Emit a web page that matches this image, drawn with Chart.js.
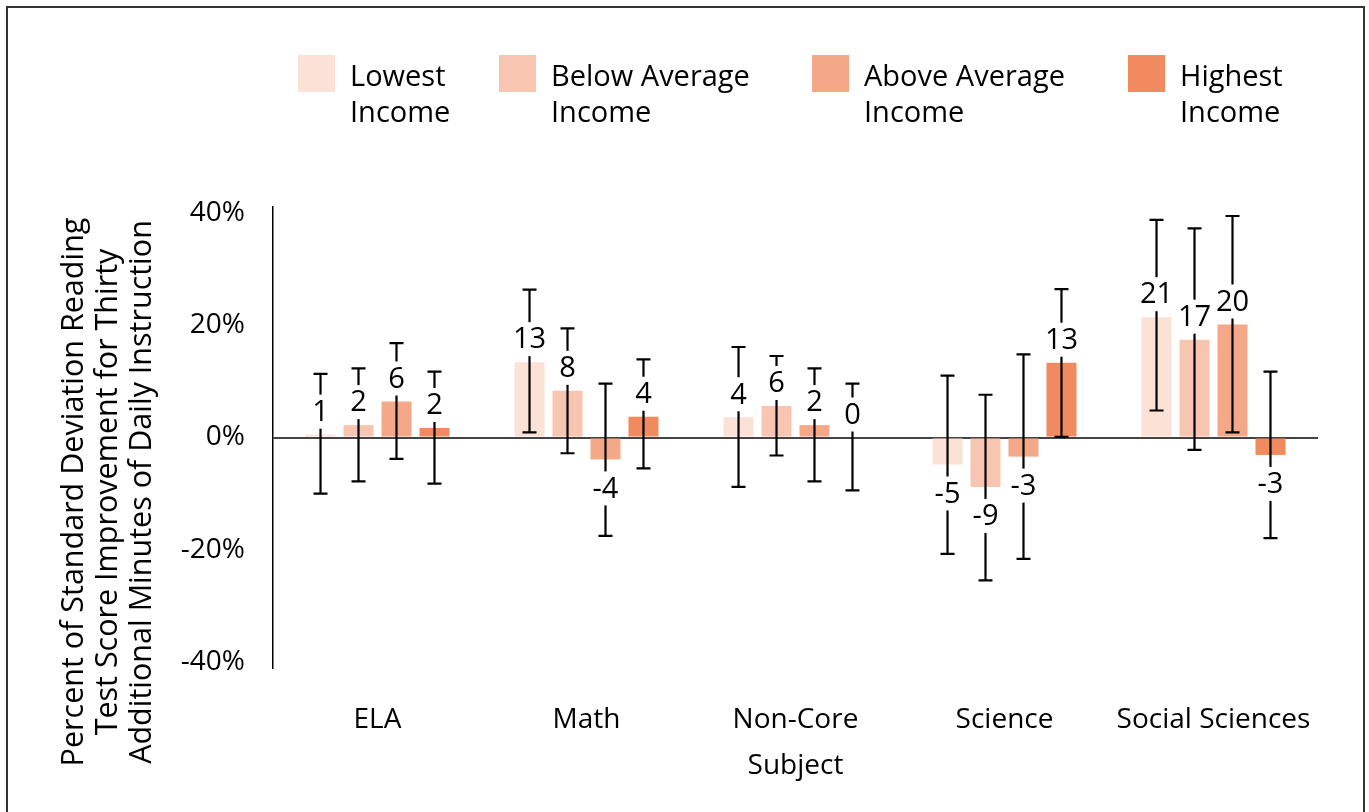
<!DOCTYPE html>
<html>
<head>
<meta charset="utf-8">
<script src="https://cdn.jsdelivr.net/npm/chart.js@4.4.1/dist/chart.umd.min.js"></script>
<style>
  html, body { margin: 0; padding: 0; background: #fff; overflow: hidden; }
  #wrap { position: relative; width: 1369px; height: 812px; }
  #frame { position: absolute; left: 6px; top: 6px; width: 1355px; height: 840px; border: 2px solid #333; pointer-events: none; }
</style>
</head>
<body>
<div id="wrap">
  <canvas id="chart" width="1369" height="812"></canvas>
  <div id="frame"></div>
</div>
<script>
// Categories and series
const subjects = ['ELA', 'Math', 'Non-Core', 'Science', 'Social Sciences'];
const incomeLabels = [['Lowest', 'Income'], ['Below Average', 'Income'], ['Above Average', 'Income'], ['Highest', 'Income']];
const incomeColors = ['#fce1d7', '#f8c5b0', '#f5a887', '#f28a60'];

const lowestIncome       = [0.5, 13.4, 3.6, -4.8, 21.4];
const belowAverageIncome = [2.2, 8.3, 5.6, -8.8, 17.4];
const aboveAverageIncome = [6.4, -3.9, 2.2, -3.4, 20.1];
const highestIncome      = [1.7, 3.7, 0, 13.3, -3.1];

// Confidence intervals [low, high]
const lowestCI       = [[-10.0, 11.3], [0.9, 26.3], [-8.8, 16.1], [-20.7, 11.0], [4.8, 38.7]];
const belowAverageCI = [[-7.8, 12.3], [-2.8, 19.4], [-3.2, 14.5], [-25.4, 7.6], [-2.2, 37.2]];
const aboveAverageCI = [[-3.8, 16.8], [-17.5, 9.6], [-7.8, 12.3], [-21.6, 14.8], [0.9, 39.4]];
const highestCI      = [[-8.2, 11.7], [-5.5, 13.9], [-9.4, 9.6], [0.1, 26.4], [-17.9, 11.7]];

const yTicks = [-40, -20, 0, 20, 40];
const yTitleLines = ['Percent of Standard Deviation Reading', 'Test Score Improvement for Thirty', 'Additional Minutes of Daily Instruction'];
const xTitle = 'Subject';

const seriesValues = [lowestIncome, belowAverageIncome, aboveAverageIncome, highestIncome];
const seriesCI = [lowestCI, belowAverageCI, aboveAverageCI, highestCI];

Chart.defaults.font.family = '"Open Sans", sans-serif';
Chart.defaults.font.size = 28;
Chart.defaults.color = '#000';

// error bars + value labels
const errorBarPlugin = {
    id: 'errorBars',
    afterDatasetsDraw(chart) {
        const ctx = chart.ctx;
        const y = chart.scales.y;
        ctx.save();
        ctx.strokeStyle = '#000';
        ctx.lineWidth = 2.2;
        chart.data.datasets.forEach((ds, i) => {
            const meta = chart.getDatasetMeta(i);
            meta.data.forEach((bar, j) => {
                const ci = seriesCI[i][j];
                const yLo = y.getPixelForValue(ci[0]);
                const yHi = y.getPixelForValue(ci[1]);
                ctx.beginPath();
                ctx.moveTo(bar.x, yLo); ctx.lineTo(bar.x, yHi);
                ctx.moveTo(bar.x - 7, yLo); ctx.lineTo(bar.x + 7, yLo);
                ctx.moveTo(bar.x - 7, yHi); ctx.lineTo(bar.x + 7, yHi);
                ctx.stroke();
            });
        });
        ctx.font = '29px "Open Sans", sans-serif';
        ctx.textAlign = 'center';
        ctx.textBaseline = 'middle';
        chart.data.datasets.forEach((ds, i) => {
            const meta = chart.getDatasetMeta(i);
            meta.data.forEach((bar, j) => {
                const v = ds.data[j];
                const txt = String(Math.round(v));
                const ty = v >= 0 ? bar.y - 23 : bar.y + 29;
                const w = ctx.measureText(txt).width + 4;
                ctx.fillStyle = '#fff';
                ctx.fillRect(bar.x - w / 2, ty - 17, w, 34);
                ctx.fillStyle = '#000';
                ctx.fillText(txt, bar.x, ty + 1);
            });
        });
        ctx.restore();
    }
};

// legend (two-line labels) and rotated y title
const decorPlugin = {
    id: 'decor',
    afterDraw(chart) {
        const ctx = chart.ctx;
        const legendX = [298, 499, 812, 1128];
        ctx.save();
        ctx.font = '29px "Open Sans", sans-serif';
        ctx.textAlign = 'left';
        ctx.textBaseline = 'alphabetic';
        chart.data.datasets.forEach((ds, i) => {
            ctx.fillStyle = ds.backgroundColor;
            ctx.fillRect(legendX[i], 55, 37, 37);
            ctx.fillStyle = '#000';
            incomeLabels[i].forEach((line, k) => {
                ctx.fillText(line, legendX[i] + 52, 86 + k * 36);
            });
        });

        ctx.translate(0, 492);
        ctx.rotate(-Math.PI / 2);
        ctx.textAlign = 'center';
        ctx.textBaseline = 'middle';
        ctx.font = '30.5px "Open Sans", sans-serif';
        yTitleLines.forEach((line, k) => {
            ctx.fillText(line, 0, 74 + k * 34);
        });
        ctx.restore();
    }
};

new Chart(document.getElementById('chart'), {
    type: 'bar',
    data: {
        labels: subjects,
        datasets: seriesValues.map((vals, i) => ({
            label: incomeLabels[i].join(' '),
            data: vals,
            backgroundColor: incomeColors[i],
            borderWidth: 0,
            categoryPercentage: 0.727,
            barPercentage: 0.79
        }))
    },
    options: {
        responsive: false,
        animation: false,
        layout: { padding: { top: 207, right: 51, left: 0, bottom: 0 } },
        plugins: {
            legend: { display: false },
            tooltip: { enabled: false }
        },
        scales: {
            y: {
                min: -41,
                max: 41,
                afterBuildTicks: scale => { scale.ticks = yTicks.map(v => ({ value: v })); },
                afterFit: scale => { scale.width = 273; },
                ticks: {
                    padding: 28,
                    callback: v => v + '%'
                },
                grid: {
                    drawTicks: false,
                    lineWidth: 2,
                    color: c => c.tick && c.tick.value === 0 ? '#444' : 'rgba(0,0,0,0)'
                },
                border: { display: true, color: '#000', width: 1.5 }
            },
            x: {
                afterFit: scale => { scale.height = 144; },
                ticks: { padding: 35 },
                grid: { display: false, drawTicks: false },
                border: { display: false },
                title: {
                    display: true,
                    text: xTitle,
                    padding: { top: 0, bottom: 29 }
                }
            }
        }
    },
    plugins: [errorBarPlugin, decorPlugin]
});
</script>
</body>
</html>
